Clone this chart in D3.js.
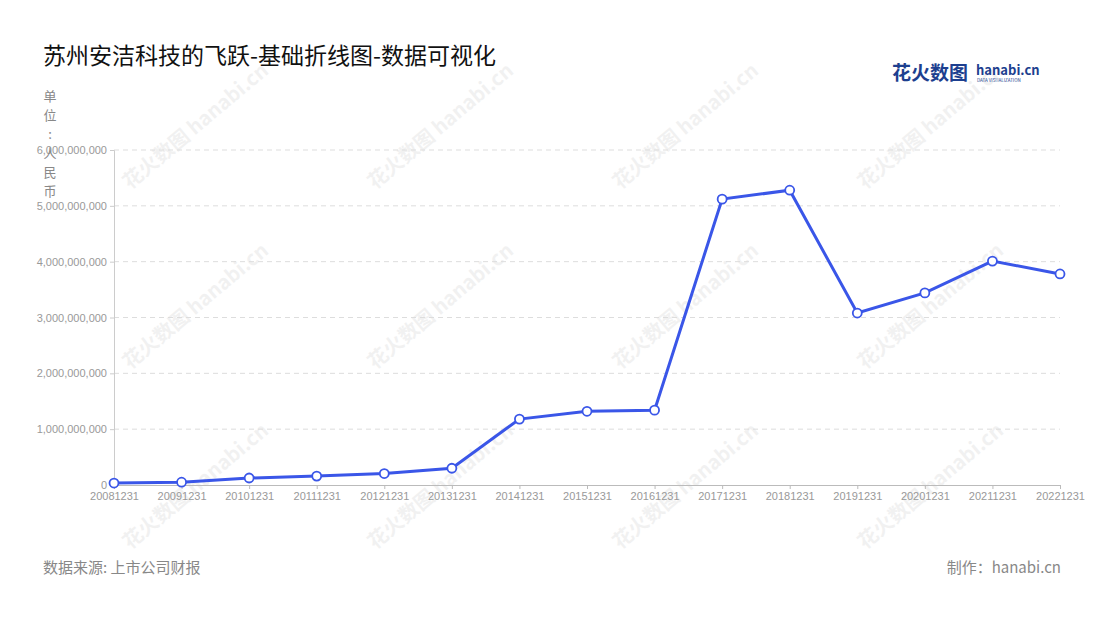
<!DOCTYPE html>
<html><head><meta charset="utf-8">
<script src="https://cdn.jsdelivr.net/npm/d3@7"></script>
<style>body{margin:0;background:#fff;font-family:"Noto Sans CJK SC","Noto Sans",sans-serif;}</style>
</head><body>
<script>
var width = 1100, height = 620;
var x_left = 114, x_right = 1060, y_top = 150, y_bottom = 485;

var years = ['20081231','20091231','20101231','20111231','20121231','20131231','20141231','20151231','20161231','20171231','20181231','20191231','20201231','20211231','20221231'];
var revenue = [35e6, 50e6, 125e6, 160e6, 205e6, 300e6, 1180e6, 1320e6, 1340e6, 5120e6, 5280e6, 3080e6, 3440e6, 4010e6, 3780e6];
var y_ticks = [0, 1e9, 2e9, 3e9, 4e9, 5e9, 6e9];

var svg = d3.select('body').append('svg').attr('width', width).attr('height', height);

// watermarks
[[130,190],[375,190],[620,190],[865,190],[130,370],[375,370],[620,370],[865,370],[130,550],[375,550],[620,550],[865,550]].forEach(function(p){
  svg.append('text').attr('transform','translate('+p[0]+','+p[1]+') rotate(-40)')
    .attr('font-size',20).attr('font-weight','bold').attr('fill','#000').attr('opacity',0.05)
    .text('花火数图 hanabi.cn');
});

svg.append('text').attr('x', 43).attr('y', 64).attr('font-size', 23).attr('fill', '#111')
  .text('苏州安洁科技的飞跃-基础折线图-数据可视化');

// logo
svg.append('text').attr('x', 892).attr('y', 80).attr('font-size', 19).attr('font-weight', 'bold').attr('fill', '#1d3f8f').text('花火数图');
svg.append('text').attr('x', 976).attr('y', 75).attr('font-size', 13).attr('font-weight', 'bold').attr('fill', '#1d3f8f').text('hanabi.cn');
svg.append('text').attr('x', 977).attr('y', 82).attr('font-size', 4.5).attr('fill', '#1d3f8f').text('DATA VISUALIZATION');

var xScale = d3.scalePoint().domain(years).range([x_left, x_right]);
var yScale = d3.scaleLinear().domain([0, 6e9]).range([y_bottom, y_top]);

// grid
svg.append('g').selectAll('line').data(y_ticks.slice(1)).enter().append('line')
  .attr('x1', x_left).attr('x2', x_right)
  .attr('y1', d => yScale(d)).attr('y2', d => yScale(d))
  .attr('stroke', '#ddd').attr('stroke-dasharray', '5,4');

var ya = svg.append('g').attr('transform', 'translate(' + x_left + ',0)')
  .call(d3.axisLeft(yScale).tickValues(y_ticks).tickFormat(d3.format(',')).tickSize(4));
ya.select('.domain').attr('stroke', '#ccc');
ya.selectAll('line').attr('stroke', '#ccc');
ya.selectAll('text').attr('fill', '#999').attr('font-size', 11);

var xa = svg.append('g').attr('transform', 'translate(0,' + y_bottom + ')')
  .call(d3.axisBottom(xScale).tickSize(4));
xa.select('.domain').attr('stroke', '#bbb');
xa.selectAll('line').attr('stroke', '#bbb');
xa.selectAll('text').attr('fill', '#999').attr('font-size', 11);

// unit label, vertical
'单位：人民币'.split('').forEach(function(c, i){
  svg.append('text').attr('x', 50).attr('y', 101 + i * 19).attr('text-anchor', 'middle')
    .attr('font-size', 13).attr('fill', '#888').text(c === '：' ? ':' : c);
});

var line = d3.line().x((d, i) => xScale(years[i])).y(d => yScale(d));
svg.append('path').datum(revenue).attr('d', line).attr('fill', 'none')
  .attr('stroke', '#3a56e8').attr('stroke-width', 3);
svg.append('g').selectAll('circle').data(revenue).enter().append('circle')
  .attr('cx', (d, i) => xScale(years[i])).attr('cy', d => yScale(d)).attr('r', 4.5)
  .attr('fill', '#fff').attr('stroke', '#3a56e8').attr('stroke-width', 1.8);

svg.append('text').attr('x', 43).attr('y', 573).attr('font-size', 15).attr('fill', '#888').text('数据来源: 上市公司财报');
svg.append('text').attr('x', 1061).attr('y', 573).attr('font-size', 15).attr('fill', '#888').attr('text-anchor', 'end').text('制作：hanabi.cn');
</script>
</body></html>
